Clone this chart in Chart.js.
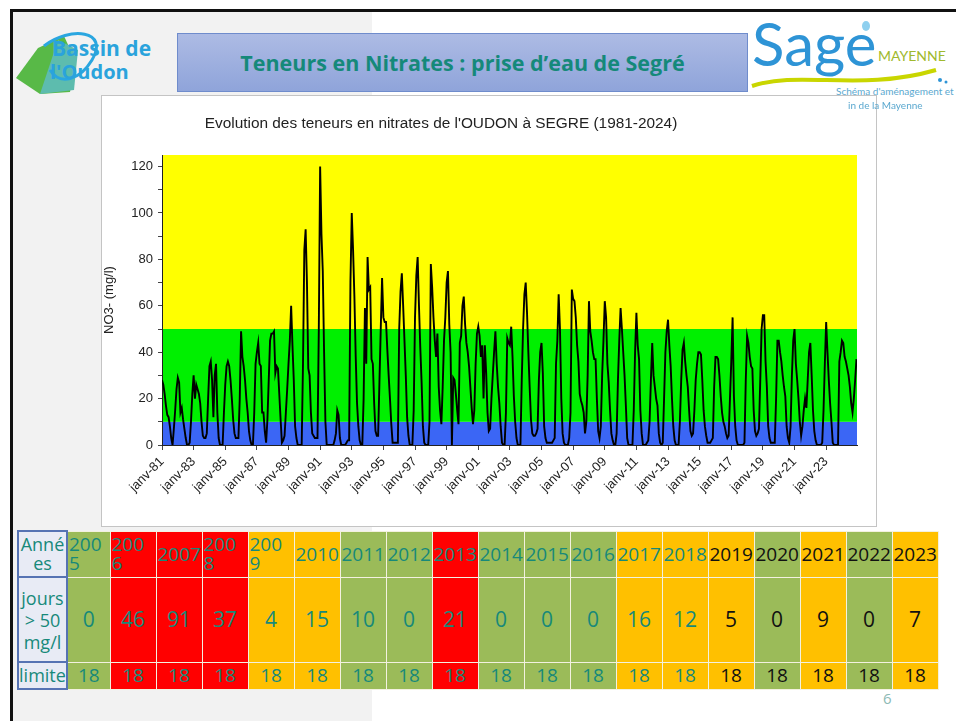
<!DOCTYPE html>
<html>
<head>
<meta charset="utf-8">
<script src="https://cdn.jsdelivr.net/npm/chart.js@4"></script>
<style>
body{margin:0;width:956px;height:721px;overflow:hidden;background:#fff;position:relative;font-family:"Open Sans",sans-serif}
.abs{position:absolute}
#frameTop{left:10px;top:9px;width:946px;height:3px;background:#111}
#frameLeft{left:10px;top:9px;width:3px;height:712px;background:#111}
#grey{left:13px;top:12px;width:359px;height:709px;background:#f2f2f2}
#titleBox{left:177px;top:33px;width:569px;height:57px;border:1px solid #6f8ccc;
  background:linear-gradient(#adbbe4,#8fa4da);display:flex;align-items:center;justify-content:center;
  color:#15897a;font-weight:700;font-size:21.5px}
#chartBox{left:101px;top:95px;width:774px;height:430px;border:1px solid #c4c4c4;background:#fff}
#chartTitle{left:101px;top:114px;width:680px;text-align:center;font:15.4px "Liberation Sans",Arial,sans-serif;color:#222}
#pageNum{left:883px;top:688px;font-size:15px;color:#8dbab5}
table{position:absolute;left:17px;top:530px;border-collapse:collapse;table-layout:fixed}
td{border:1px solid #f3f1e0;padding:0;color:#17897a;font-size:19px;line-height:19px;overflow:hidden}
td.h{background:#e8ebf5;border:2px solid #5673b3;text-align:center;font-size:18px}
tr.r1 td{height:44px;text-align:left;padding-left:1px}
tr.r1 td.h{text-align:center;padding-left:0}
tr.r2 td{height:83px;text-align:center;font-size:21px}
tr.r2 td.h{font-size:18px;line-height:22px}
tr.r3 td{height:25px;text-align:center}
.g{background:#9bbb59}.r{background:#ff0000}.o{background:#ffc000}
.k{color:#111 !important}
</style>
</head>
<body>
<div id="grey" class="abs"></div>
<div id="frameTop" class="abs"></div>
<div id="frameLeft" class="abs"></div>

<svg class="abs" style="left:0;top:0" width="956" height="120">
  <polygon points="16,78 38,48 64,36 76,62 70,92 40,94" fill="#58b947"/>
  <polygon points="40,94 58,40 78,50 74,90" fill="#5dbcae"/>
  <path d="M44,46 C70,26 110,30 92,60 C80,80 60,86 50,70" stroke="#2aa6e0" stroke-width="3" fill="none"/>
  <text x="52" y="56" font-family="Open Sans" font-weight="700" font-size="21" fill="#2aa3dc">Bassin de</text>
  <text x="50" y="79" font-family="Open Sans" font-weight="700" font-size="20" fill="#2aa3dc">l'Oudon</text>
  <text x="752" y="66" font-family="Lato" font-size="60" fill="#2e94d6">Sage</text>
  <ellipse cx="866" cy="26" rx="4" ry="5" fill="#8fd0ef"/>
  <text x="878" y="61" font-family="Lato" font-size="14" fill="#a0b92d">MAYENNE</text>
  <path d="M752,86 C800,70 860,92 936,70" stroke="#c9d600" stroke-width="4" fill="none"/>
  <circle cx="940" cy="80" r="2" fill="#2e94d6"/><circle cx="946" cy="82" r="1.5" fill="#2e94d6"/>
  <text x="836" y="95" font-family="Lato" font-size="10" fill="#5aa8cf">Schéma d'aménagement et</text>
</svg>

<div id="titleBox" class="abs">Teneurs en Nitrates : prise d’eau de Segré</div>

<div id="chartBox" class="abs"><canvas id="nitrateChart" width="774" height="430"></canvas></div>
<div id="chartTitle" class="abs">Evolution des teneurs en nitrates de l'OUDON à SEGRE (1981-2024)</div>
<div class="abs" style="left:848px;top:99px;font:10px Lato;color:#5aa8cf">in de la Mayenne</div>

<table>
  <colgroup><col style="width:49px"><col style="width:43px">
  <col span="18" style="width:46px"></colgroup>
  <tbody id="tbl"></tbody>
</table>
<div id="pageNum" class="abs">6</div>

<script>
// monthly values, janv -> déc, NO3- in mg/l
const startYear = 1981;
const nitrates1981_1990 = [
  28, 26, 22, 17, 13, 12, 8, 3, 0, 7, 15, 24,    // 1981
  29, 27, 14, 16, 11, 7, 3, 0, 0, 1, 10, 22,     // 1982
  30, 20, 26, 24, 22, 18, 10, 4, 3, 3, 5, 20,    // 1983
  34, 36, 28, 12, 30, 35, 14, 3, 0, 0, 0, 14,    // 1984
  26, 34, 36, 34, 28, 20, 11, 5, 3, 3, 3, 20,    // 1985
  49, 38, 34, 28, 20, 14, 6, 2, 0, 0, 14, 35,    // 1986
  40, 44, 35, 34, 14, 14, 6, 1, 11, 28, 45, 48,  // 1987
  48, 49, 31, 34, 33, 22, 11, 1, 2, 4, 14, 24,   // 1988
  35, 45, 60, 43, 28, 8, 3, 0, 0, 0, 0, 35,      // 1989
  84, 93, 70, 33, 30, 14, 5, 4, 3, 3, 3, 50      // 1990
];
const nitrates1991_2000 = [
  120, 91, 75, 40, 10, 0, 0, 0, 0, 0, 0, 2,      // 1991
  5, 15, 13, 3, 0, 0, 0, 0, 1, 2, 2, 70,         // 1992
  100, 84, 64, 38, 18, 8, 2, 0, 0, 20, 59, 35,   // 1993
  81, 67, 68, 37, 35, 18, 6, 4, 4, 27, 50, 72,   // 1994
  55, 53, 53, 41, 30, 20, 9, 1, 1, 1, 1, 1,      // 1995
  50, 66, 74, 60, 45, 30, 12, 4, 0, 0, 0, 15,    // 1996
  55, 73, 81, 60, 42, 27, 8, 1, 0, 0, 0, 10,     // 1997
  78, 68, 55, 45, 38, 48, 25, 15, 9, 25, 45, 55, // 1998
  70, 75, 52, 40, 0, 29, 28, 22, 15, 9, 44, 47,  // 1999
  60, 64, 52, 44, 40, 34, 25, 16, 9, 15, 35, 48  // 2000
];
const nitrates2001_2010 = [
  51, 47, 38, 43, 20, 43, 31, 14, 6, 7, 20, 30,  // 2001
  40, 49, 35, 25, 18, 8, 1, 0, 0, 14, 46, 44,    // 2002
  43, 51, 38, 21, 10, 3, 0, 0, 0, 28, 50, 65,    // 2003
  70, 57, 40, 25, 11, 5, 4, 4, 5, 7, 28, 40,     // 2004
  44, 31, 8, 3, 1, 1, 1, 1, 1, 2, 3, 35,         // 2005
  45, 65, 50, 20, 5, 1, 0, 0, 0, 3, 14, 67,      // 2006
  63, 62, 55, 43, 36, 22, 19, 17, 14, 5, 10, 30, // 2007
  62, 49, 45, 40, 37, 37, 20, 6, 3, 8, 30, 45,   // 2008
  62, 55, 35, 27, 15, 5, 2, 0, 0, 5, 28, 45,     // 2009
  59, 50, 40, 30, 17, 3, 0, 0, 0, 0, 15, 40      // 2010
];
const nitrates2011_2020 = [
  57, 43, 37, 15, 5, 0, 0, 0, 1, 2, 10, 28,      // 2011
  44, 30, 25, 20, 17, 5, 1, 0, 1, 20, 40, 49,    // 2012
  54, 43, 34, 20, 8, 2, 0, 0, 0, 10, 28, 41,     // 2013
  44, 36, 30, 25, 15, 6, 4, 5, 15, 28, 35, 40,   // 2014
  40, 39, 28, 15, 8, 4, 1, 1, 1, 2, 3, 25,       // 2015
  38, 38, 37, 30, 21, 14, 10, 8, 5, 3, 4, 20,    // 2016
  36, 55, 21, 8, 2, 0, 0, 0, 0, 0, 1, 28,        // 2017
  47, 44, 38, 34, 33, 15, 6, 4, 5, 7, 28, 50,    // 2018
  56, 56, 36, 25, 8, 3, 1, 1, 1, 1, 20, 45,      // 2019
  45, 40, 36, 30, 25, 21, 8, 3, 1, 8, 30, 45     // 2020
];
const nitrates2021_2024 = [
  50, 35, 28, 20, 10, 4, 8, 15, 20, 16, 28, 40,  // 2021
  44, 30, 15, 6, 2, 0, 0, 0, 0, 1, 15, 35,       // 2022
  53, 40, 28, 18, 10, 1, 0, 0, 0, 0, 36, 40,     // 2023
  45, 44, 38, 36, 33, 30, 25, 18, 14, 20, 28, 37 // 2024
];
const xTickYears = [1981, 1983, 1985, 1987, 1989, 1991, 1993, 1995, 1997, 1999, 2001,
  2003, 2005, 2007, 2009, 2011, 2013, 2015, 2017, 2019, 2021, 2023];
const yLabelValues = [0, 20, 40, 60, 80, 100, 120];
const bandLimits = [0, 10, 50, 125];
const bandColors = ['#3b66f5', '#00f000', '#ffff00'];

// table rows
const tableYears = [2005, 2006, 2007, 2008, 2009, 2010, 2011, 2012, 2013, 2014, 2015, 2016,
  2017, 2018, 2019, 2020, 2021, 2022, 2023];
const daysOver50 = [0, 46, 91, 37, 4, 15, 10, 0, 21, 0, 0, 0, 16, 12, 5, 0, 9, 0, 7];
const limitDays = [18, 18, 18, 18, 18, 18, 18, 18, 18, 18, 18, 18, 18, 18, 18, 18, 18, 18, 18];
const cellClass = ['g', 'r', 'r', 'r', 'o', 'o', 'g', 'g', 'r', 'g', 'g', 'g', 'o', 'o', 'o', 'g', 'o', 'g', 'o'];

document.addEventListener('DOMContentLoaded', function () {
    const tbl = document.getElementById('tbl');
    const wrapped = {2005: '200<br>5', 2006: '200<br>6', 2008: '200<br>8', 2009: '200<br>9'};
    let r1 = '<tr class="r1"><td class="h">Anné<br>es</td>';
    let r2 = '<tr class="r2"><td class="h">jours<br>&gt; 50<br>mg/l</td>';
    let r3 = '<tr class="r3"><td class="h">limite</td>';
    tableYears.forEach(function (y, i) {
        const c = cellClass[i] + (y >= 2019 ? ' k' : '');
        r1 += `<td class="${c}">${wrapped[y] || y}</td>`;
        r2 += `<td class="${c}">${daysOver50[i]}</td>`;
        r3 += `<td class="${c}">${limitDays[i]}</td>`;
    });
    tbl.innerHTML = r1 + '</tr>' + r2 + '</tr>' + r3 + '</tr>';

    const values = nitrates1981_1990.concat(nitrates1991_2000, nitrates2001_2010,
        nitrates2011_2020, nitrates2021_2024);
    const points = values.map((v, i) => ({x: startYear + i / 12, y: v}));

    const bandsPlugin = {
        id: 'bands',
        beforeDraw(chart) {
            const {ctx, chartArea, scales} = chart;
            for (let i = 0; i < bandColors.length; i++) {
                const top = scales.y.getPixelForValue(bandLimits[i + 1]);
                const bottom = scales.y.getPixelForValue(bandLimits[i]);
                ctx.fillStyle = bandColors[i];
                ctx.fillRect(chartArea.left, top, chartArea.right - chartArea.left, bottom - top);
            }
        }
    };

    const font = {family: '"Liberation Sans", Arial, sans-serif', size: 13};

    new Chart(document.getElementById('nitrateChart').getContext('2d'), {
        type: 'line',
        data: {
            datasets: [{
                label: 'NO3- (mg/l)',
                data: points,
                borderColor: '#000',
                borderWidth: 1.9,
                pointRadius: 0,
                tension: 0
            }]
        },
        options: {
            responsive: false,
            animation: false,
            layout: {padding: {top: 59, right: 19, left: 0, bottom: 0}},
            plugins: {legend: {display: false}, title: {display: false}, tooltip: {enabled: false}},
            scales: {
                x: {
                    type: 'linear',
                    min: startYear,
                    max: 2024.95,
                    afterBuildTicks: s => { s.ticks = xTickYears.map(v => ({value: v})); },
                    afterFit: s => { s.height = 81; },
                    ticks: {
                        autoSkip: false, minRotation: 45, maxRotation: 45, padding: 4,
                        color: '#222', font: font,
                        callback: v => 'janv-' + String(v).slice(2)
                    },
                    grid: {drawOnChartArea: false, tickLength: 5, color: '#444'},
                    border: {color: '#222'}
                },
                y: {
                    min: 0,
                    max: 125,
                    afterBuildTicks: s => {
                        const t = [];
                        yLabelValues.forEach(v => { for (let k = 0; k < 6; k++) if (v + k * 20 / 6 <= 125) t.push({value: v + k * 20 / 6}); });
                        s.ticks = t;
                    },
                    afterFit: s => { s.width = 60; },
                    ticks: {
                        color: '#222', font: font, padding: 5,
                        callback: v => yLabelValues.includes(Math.round(v * 1000) / 1000) ? v : ''
                    },
                    grid: {drawOnChartArea: false, tickLength: 4, color: '#444'},
                    border: {color: '#222'},
                    title: {display: true, text: 'NO3- (mg/l)', color: '#222', font: font, padding: {top: 0, bottom: 6}}
                }
            }
        },
        plugins: [bandsPlugin]
    });
});
</script>
</body>
</html>
